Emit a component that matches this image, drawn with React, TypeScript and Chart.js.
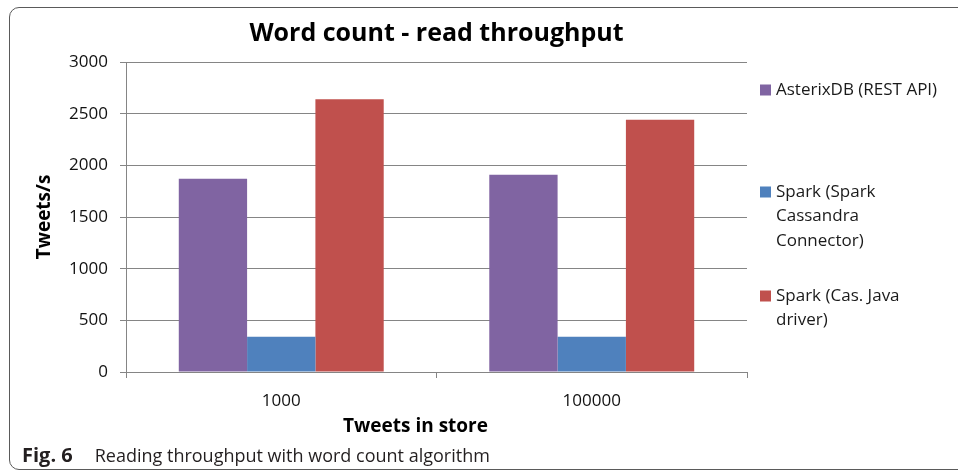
import React, { useEffect, useRef } from "react";
import { Chart, registerables } from "chart.js";

Chart.register(...registerables);

const categories = ["1000", "100000"];
const asterixValues = [1870, 1910];
const sparkConnectorValues = [340, 340];
const sparkJavaValues = [2640, 2440];

const seriesLines = [
  ["AsterixDB (REST API)"],
  ["Spark (Spark", "Cassandra", "Connector)"],
  ["Spark (Cas. Java", "driver)"],
];
const seriesColors = ["#8064A2", "#4F81BD", "#C0504D"];

const yMin = 0;
const yMax = 3000;
const yStep = 500;

const chartTitle = "Word count - read throughput";
const yTitle = "Tweets/s";
const xTitle = "Tweets in store";
const captionBold = "Fig. 6";
const captionText = "Reading throughput with word count algorithm";

const FONT = "'Open Sans', 'DejaVu Sans', sans-serif";

const sideLegend = {
  id: "sideLegend",
  afterDraw(chart: any) {
    const ctx = chart.ctx;
    const starts = [90, 192, 296];
    const lineH = 24.5;
    ctx.save();
    ctx.font = `17px ${FONT}`;
    ctx.textBaseline = "middle";
    ctx.textAlign = "left";
    chart.data.datasets.forEach((ds: any, i: number) => {
      const y0 = starts[i];
      ctx.fillStyle = ds.backgroundColor;
      ctx.fillRect(760, y0 - 5.5, 11, 11);
      ctx.fillStyle = "#1a1a1a";
      const lines: string[] = ds.legendLines;
      lines.forEach((ln, k) => {
        ctx.fillText(ln, 776, y0 + k * lineH);
      });
    });
    // x axis title (offset left of plot centre, as in the reference)
    const area = chart.chartArea;
    ctx.font = `bold 19px ${FONT}`;
    ctx.fillStyle = "#000";
    ctx.textAlign = "center";
    ctx.fillText(xTitle, (area.left + area.right) / 2 - 21, 427);
    ctx.restore();
  },
};

export default function App() {
  const ref = useRef<HTMLCanvasElement | null>(null);

  useEffect(() => {
    if (!ref.current) return;
    const values = [asterixValues, sparkConnectorValues, sparkJavaValues];
    const chart = new Chart(ref.current, {
      type: "bar",
      data: {
        labels: categories,
        datasets: values.map((v, i) => ({
          label: seriesLines[i].join(" "),
          legendLines: seriesLines[i],
          data: v,
          backgroundColor: seriesColors[i],
          borderWidth: 0,
          categoryPercentage: 0.66,
          barPercentage: 1,
        })) as any,
      },
      options: {
        responsive: false,
        animation: false,
        devicePixelRatio: 1,
        layout: { padding: { top: 0, right: 211, bottom: 0, left: 0 } },
        plugins: {
          legend: { display: false },
          tooltip: { enabled: false },
          title: {
            display: true,
            text: chartTitle,
            fullSize: false,
            color: "#000",
            font: { family: FONT, size: 25, weight: "bold" },
            padding: { top: 19, bottom: 13 },
          },
        },
        scales: {
          x: {
            afterFit: (s: any) => {
              s.height = 103;
            },
            grid: {
              display: true,
              drawOnChartArea: false,
              drawTicks: true,
              tickLength: 6,
              color: "#858585",
              offset: true,
            },
            border: { display: true, color: "#858585", width: 1 },
            ticks: {
              color: "#111",
              padding: 13,
              font: { family: FONT, size: 17 },
            },
            title: { display: false, text: xTitle },
          },
          y: {
            min: yMin,
            max: yMax,
            afterFit: (s: any) => {
              s.width = 126;
            },
            ticks: {
              stepSize: yStep,
              color: "#111",
              padding: 12,
              font: { family: FONT, size: 17 },
              callback: (v: any) => String(v),
            },
            grid: {
              color: "#858585",
              lineWidth: 1,
              tickLength: 6,
              drawTicks: true,
            },
            border: { display: true, color: "#858585", width: 1 },
            title: {
              display: true,
              text: yTitle,
              color: "#000",
              font: { family: FONT, size: 19, weight: "bold" },
              padding: { top: 33, bottom: 0 },
            },
          },
        },
      },
      plugins: [sideLegend],
    });
    return () => chart.destroy();
  }, []);

  return (
    <div
      style={{
        position: "absolute",
        left: 0,
        top: 0,
        width: 958,
        height: 475,
        overflow: "hidden",
        background: "#fff",
      }}
    >
      <div
        style={{
          position: "absolute",
          left: 9,
          top: 7,
          width: 980,
          height: 463,
          border: "1.5px solid #5a5a5a",
          borderRadius: 10,
          boxSizing: "border-box",
        }}
      />
      <canvas
        ref={ref}
        width={958}
        height={475}
        style={{ position: "absolute", left: 0, top: 0, width: 958, height: 475 }}
      />
      <div
        style={{
          position: "absolute",
          left: 22,
          top: 443,
          fontFamily: FONT,
          fontSize: 18,
          lineHeight: "24px",
          color: "#231f20",
          whiteSpace: "nowrap",
        }}
      >
        <b style={{ fontSize: 20 }}>{captionBold}</b>
        <span style={{ marginLeft: 22 }}>{captionText}</span>
      </div>
    </div>
  );
}
